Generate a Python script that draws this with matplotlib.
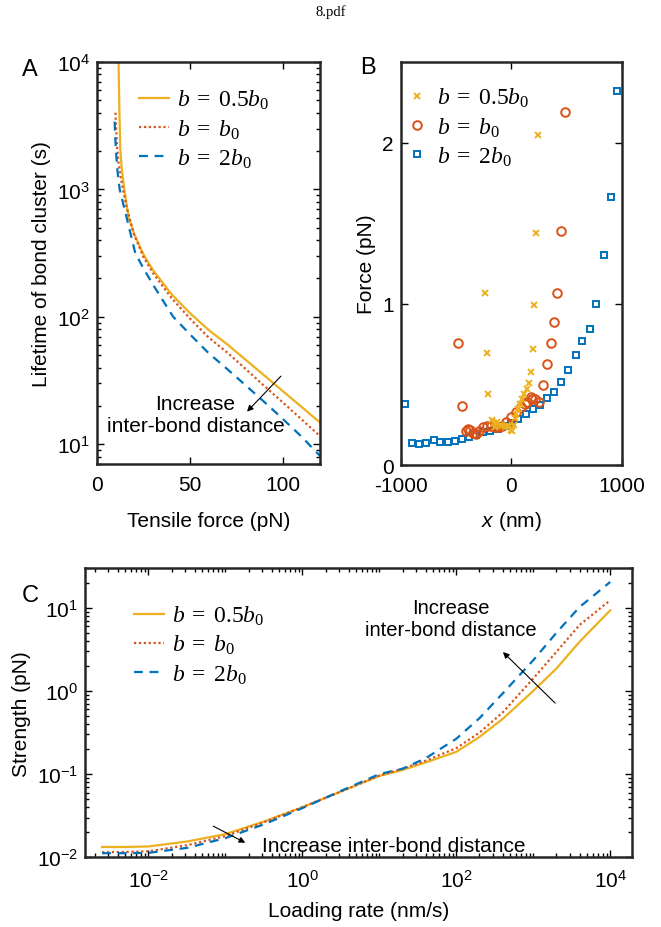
import numpy as np
import matplotlib
matplotlib.use('Agg')
from matplotlib import pyplot as plt
from matplotlib.ticker import FuncFormatter, LogLocator, FixedLocator, NullFormatter

plt.rcParams['font.family'] = ['Liberation Sans', 'DejaVu Sans']
plt.rcParams['mathtext.fontset'] = 'custom'
plt.rcParams['mathtext.rm'] = 'Liberation Serif'
plt.rcParams['mathtext.it'] = 'Liberation Serif:italic'
plt.rcParams['mathtext.sf'] = 'Liberation Sans:italic'

YEL = '#EDB120'
RED = '#D95319'
BLU = '#0072BD'

labels = [r'$b\;=\;0.5b_0$', r'$b\;=\;b_0$', r'$b\;=\;2b_0$']

# --- panel A: lifetime vs tensile force ---
a_x_half = [11.6, 12.0, 12.5, 13.3, 14.7, 17, 20, 25, 30, 40, 50, 60, 70, 80, 90, 100, 110, 120]
a_y_half = [10000, 4500, 2100, 1450, 1000, 603, 447, 309, 234, 151, 107, 79, 61, 46, 34.7, 26.1, 19.7, 14.8]
a_x_one = [9.9, 10.3, 10.8, 11.5, 12.5, 14, 16, 20, 25, 30, 40, 50, 60, 70, 80, 90, 100, 110, 120]
a_y_one = [4000, 3000, 2150, 1650, 1300, 1000, 720, 440, 295, 222, 141, 97, 69, 52.6, 39, 28.7, 21.3, 15.7, 11.6]
a_x_two = [9.5, 9.8, 10.3, 11, 12.2, 14, 16, 20.6, 25, 30, 41, 50, 60, 70, 80, 90, 100, 110, 120]
a_y_two = [3400, 2600, 1900, 1400, 1000, 783, 597, 316, 240, 180, 100, 73, 52, 39, 29, 21.5, 15.8, 11.5, 8.1]

# --- panel B: force vs x ---
b_x_half = [-241, -224, -208, -172, -160, -148, -127, -100, -80, -60, -40, -22, 0, 9, 20, 30,
            39, 60, 78, 93, 114, 138, 159, 175, 193, 205, 223, 241]
b_y_half = [1.07, 0.694, 0.44, 0.281, 0.26, 0.234, 0.265, 0.25, 0.24, 0.235, 0.245, 0.244, 0.22, 0.213,
            0.25, 0.29, 0.316, 0.347, 0.378, 0.41, 0.44, 0.47, 0.51, 0.575, 0.719, 0.994, 1.438, 2.05]
b_x_one = [-480, -444, -414, -390, -377, -350, -317, -290, -257, -217, -180, -150, -112, -80, -52, -6,
           39, 84, 120, 145, 175, 190, 217, 250, 290, 326, 356, 386, 416, 446, 482]
b_y_one = [0.756, 0.364, 0.213, 0.225, 0.219, 0.20, 0.192, 0.21, 0.234, 0.244, 0.24, 0.235, 0.234, 0.245,
           0.265, 0.296, 0.327, 0.358, 0.38, 0.389, 0.42, 0.409, 0.41, 0.39, 0.496, 0.626, 0.754, 0.885,
           1.064, 1.45, 2.19]
b_x_two = [-960, -900, -836, -770, -703, -643, -576, -510, -450, -384, -323, -257, -190, -125, -60, 0,
           60, 130, 196, 259, 320, 386, 446, 513, 582, 643, 709, 769, 833, 899, 959]
b_y_two = [0.38, 0.136, 0.128, 0.134, 0.155, 0.140, 0.143, 0.151, 0.161, 0.175, 0.186, 0.202, 0.212,
           0.225, 0.24, 0.26, 0.285, 0.316, 0.347, 0.374, 0.413, 0.455, 0.512, 0.589, 0.682, 0.767,
           0.843, 1.0, 1.30, 1.66, 2.32]

# --- panel C: strength vs loading rate ---
c_rate = [2.5e-3, 5e-3, 1e-2, 3.2e-2, 0.1, 0.32, 1, 3.2, 10, 20, 40, 100, 200, 400, 1000, 2000, 4000, 10000]
c_half = [0.0133, 0.0133, 0.0135, 0.0155, 0.019, 0.027, 0.040, 0.062, 0.095, 0.112, 0.138, 0.185,
          0.28, 0.46, 1.0, 1.86, 3.9, 9.3]
c_one = [0.0115, 0.0116, 0.0118, 0.014, 0.018, 0.0265, 0.040, 0.062, 0.096, 0.116, 0.145, 0.205,
         0.315, 0.55, 1.41, 2.95, 6.2, 12.3]
c_two = [0.0112, 0.0112, 0.0113, 0.013, 0.017, 0.025, 0.039, 0.063, 0.10, 0.116, 0.155, 0.266,
         0.47, 0.93, 2.34, 5.0, 10.2, 20.4]

FS = 15
LEG = 17
dec_fmt = FuncFormatter(lambda v, p: r'$\mathregular{10^{%d}}$' % int(round(np.log10(v))))


def style(ax):
    ax.tick_params(which='both', direction='in', top=True, right=True, labelsize=FS, width=1.0)
    ax.tick_params(which='major', length=5)
    ax.tick_params(which='minor', length=3)
    ax.tick_params(axis='x', which='major', pad=8)
    ax.tick_params(axis='y', which='major', pad=5)
    for s in ax.spines.values():
        s.set_linewidth(1.8)
        s.set_color('#262626')


fig = plt.figure(figsize=(6.61, 9.28), dpi=100)
fig.text(0.5, 1 - 12 / 928, '8.pdf', ha='center', va='center', family='Liberation Serif', fontsize=10.5)

# A
axA = fig.add_axes([97 / 661, 1 - 465 / 928, 223 / 661, 402 / 928])
axA.plot(a_x_half, a_y_half, '-', color=YEL, lw=1.6, label=labels[0])
axA.plot(a_x_one, a_y_one, color=RED, lw=1.6, ls=(0, (1, 1.2)), label=labels[1])
axA.plot(a_x_two, a_y_two, color=BLU, lw=1.6, ls=(0, (4, 3)), label=labels[2])
axA.set_yscale('log')
axA.set_xlim(0, 120)
axA.set_ylim(7, 1e4)
axA.set_xticks([0, 50, 100])
axA.yaxis.set_major_locator(FixedLocator([1e1, 1e2, 1e3, 1e4]))
axA.yaxis.set_major_formatter(dec_fmt)
axA.yaxis.set_minor_locator(LogLocator(subs=np.arange(2, 10), numticks=50))
axA.yaxis.set_minor_formatter(NullFormatter())
style(axA)
axA.set_xlabel('Tensile force (pN)', fontsize=FS, labelpad=12)
axA.set_ylabel('Lifetime of bond cluster (s)', fontsize=FS, labelpad=4)
axA.legend(loc='upper left', bbox_to_anchor=(0.19, 0.935), frameon=False, fontsize=LEG,
           handlelength=1.25, handletextpad=0.35, labelspacing=0.25, borderpad=0, borderaxespad=0)
axA.annotate('', xy=(79.7, 17.4), xytext=(100, 35.5),
             arrowprops=dict(arrowstyle='-|>', color='k', lw=0.8, mutation_scale=9))
axA.text(53, 17, 'Increase\ninter-bond distance', ha='center', va='center', fontsize=FS, linespacing=1.2)
fig.text(30 / 661, 1 - 70 / 928, 'A', ha='center', va='center', fontsize=17)

# B
axB = fig.add_axes([400.7 / 661, 1 - 466 / 928, 221.3 / 661, 403 / 928])
hb2, = axB.plot(b_x_two, b_y_two, 's', ls='none', mfc='none', mec=BLU, mew=1.4, ms=5, label=labels[2])
hb1, = axB.plot(b_x_one, b_y_one, 'o', ls='none', mfc='none', mec=RED, mew=1.4, ms=6.2, label=labels[1])
hb0, = axB.plot(b_x_half, b_y_half, 'x', ls='none', color=YEL, mew=1.4, ms=4.5, label=labels[0])
axB.set_xlim(-1000, 1000)
axB.set_ylim(0, 2.5)
axB.set_xticks([-1000, 0, 1000])
axB.set_xticklabels(['-1000', '0', '1000'])
axB.set_yticks([0, 1, 2])
style(axB)
axB.set_xlabel(r'$\mathsf{x}$ (nm)', fontsize=FS, labelpad=10)
axB.set_ylabel('Force (pN)', fontsize=FS, labelpad=4)
axB.legend(handles=[hb0, hb1, hb2], loc='upper left', bbox_to_anchor=(0.03, 0.94), frameon=False,
           fontsize=LEG, handlelength=0.8, handletextpad=0.45, labelspacing=0.25, borderpad=0,
           borderaxespad=0)
fig.text(368 / 661, 1 - 68 / 928, 'B', ha='center', va='center', fontsize=17)

# C
axC = fig.add_axes([85 / 661, 1 - 858.3 / 928, 546.7 / 661, 289.3 / 928])
axC.plot(c_rate, c_half, '-', color=YEL, lw=1.6, label=labels[0])
axC.plot(c_rate, c_one, color=RED, lw=1.6, ls=(0, (1, 1.2)), label=labels[1])
axC.plot(c_rate, c_two, color=BLU, lw=1.6, ls=(0, (4, 3)), label=labels[2])
axC.set_xscale('log')
axC.set_yscale('log')
axC.set_xlim(1.5e-3, 1.9e4)
axC.set_ylim(1e-2, 30)
axC.xaxis.set_major_locator(FixedLocator([1e-2, 1e0, 1e2, 1e4]))
axC.xaxis.set_major_formatter(dec_fmt)
axC.xaxis.set_minor_locator(LogLocator(subs=np.arange(1, 10), numticks=50))
axC.xaxis.set_minor_formatter(NullFormatter())
axC.yaxis.set_major_locator(FixedLocator([1e-2, 1e-1, 1e0, 1e1]))
axC.yaxis.set_major_formatter(dec_fmt)
axC.yaxis.set_minor_locator(LogLocator(subs=np.arange(2, 10), numticks=50))
axC.yaxis.set_minor_formatter(NullFormatter())
style(axC)
axC.set_xlabel('Loading rate (nm/s)', fontsize=FS, labelpad=8)
axC.set_ylabel('Strength (pN)', fontsize=FS, labelpad=4)
axC.legend(loc='upper left', bbox_to_anchor=(0.09, 0.876), frameon=False, fontsize=LEG,
           handlelength=1.25, handletextpad=0.35, labelspacing=0.25, borderpad=0, borderaxespad=0)
axC.annotate('', xy=(10 ** 2.58, 10 ** 0.49), xytext=(10 ** 3.31, 10 ** -0.17),
             arrowprops=dict(arrowstyle='-|>', color='k', lw=0.8, mutation_scale=9))
axC.text(10 ** 1.93, 10 ** 0.87, 'Increase\ninter-bond distance', ha='center', va='center',
         fontsize=14.5, linespacing=1.2)
axC.annotate('', xy=(10 ** -0.71, 10 ** -1.84), xytext=(10 ** -1.19, 10 ** -1.61),
             arrowprops=dict(arrowstyle='-|>', color='k', lw=0.8, mutation_scale=9))
axC.text(10 ** -0.53, 10 ** -1.86, 'Increase inter-bond distance', ha='left', va='center', fontsize=15)
fig.text(30 / 661, 1 - 596 / 928, 'C', ha='center', va='center', fontsize=17)

fig.savefig('out.png', dpi=100)
